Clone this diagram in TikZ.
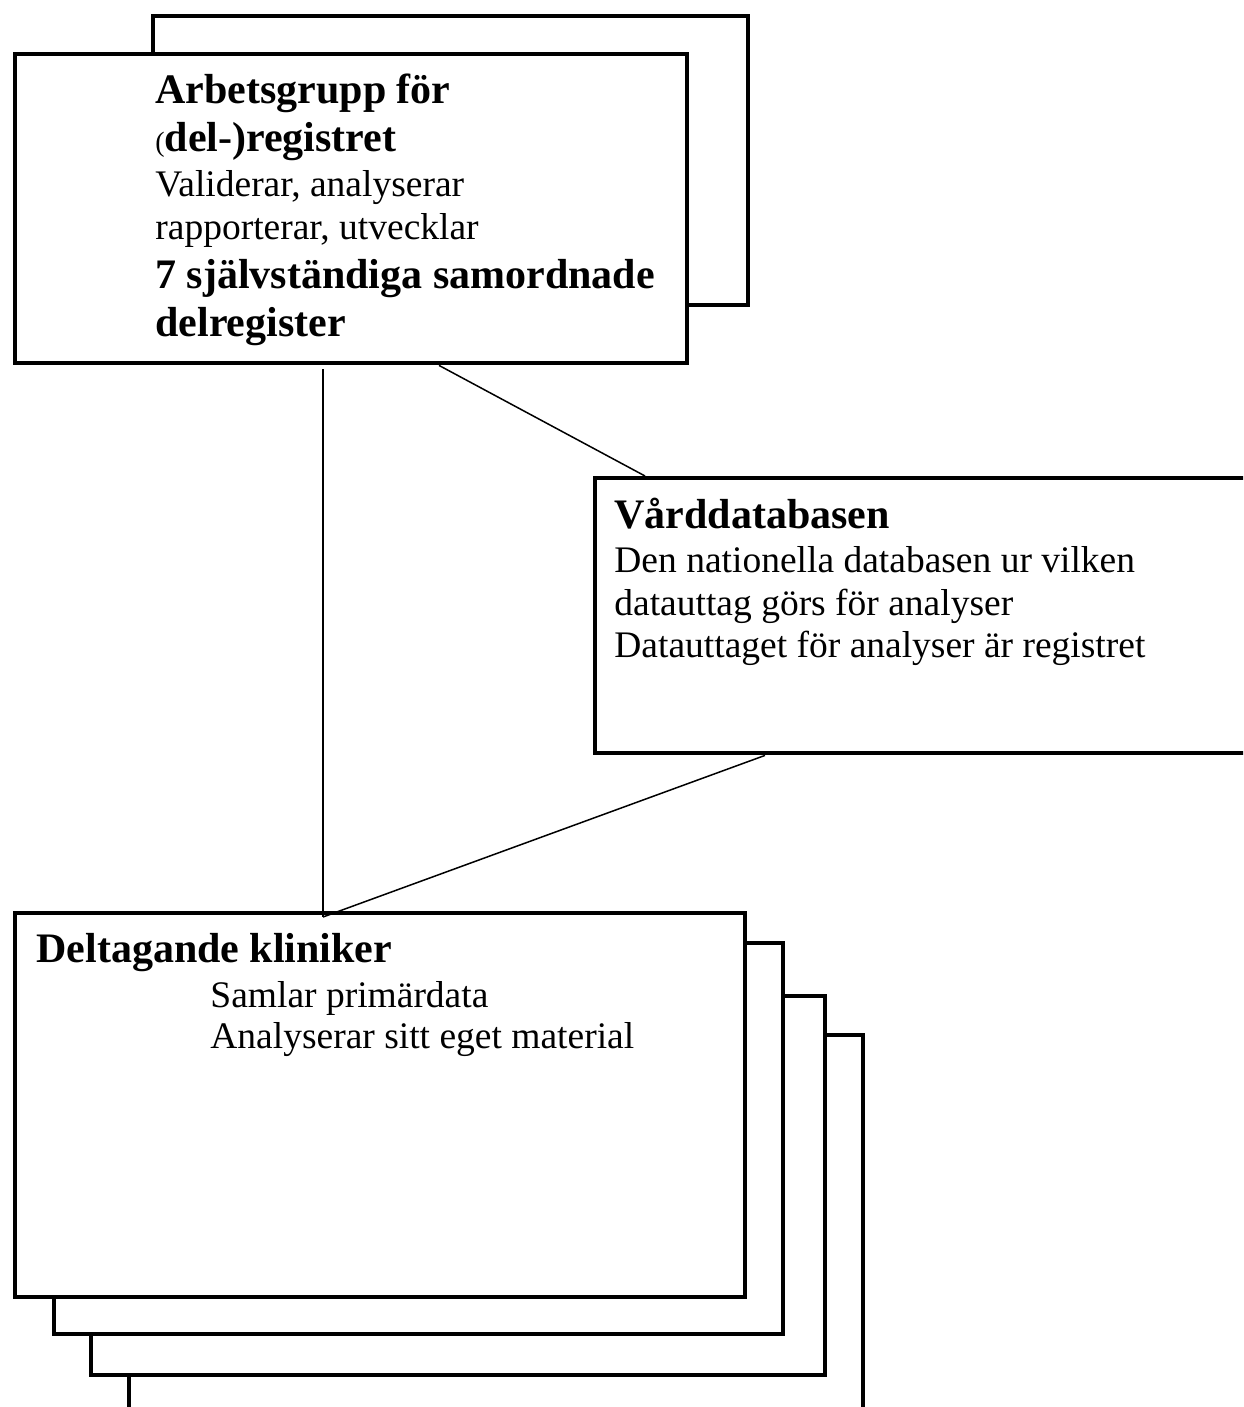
\documentclass[tikz,border=0pt]{standalone}
\usepackage{fontspec}
\setmainfont{Liberation Serif}
\tikzset{box/.style={draw, line width=2.2pt, fill=white, inner sep=0pt, anchor=north west},
         hd/.style={anchor=base west, inner sep=0pt, font=\fontsize{21}{24}\selectfont\bfseries},
         txt/.style={anchor=base west, inner sep=0pt, font=\fontsize{18.75}{22}\selectfont},
         link/.style={line width=0.75pt}}
\begin{document}
\begin{tikzpicture}[x=0.5pt,y=-0.5pt]
\useasboundingbox (0,0) rectangle (1243,1407);
\clip (0,0) rectangle (1243,1407);
\node [box, minimum width=297.5pt, minimum height=144.5pt] (arbback) at (151,14) {};
\node [box, minimum width=336pt, minimum height=154.5pt] (arb) at (13,52) {};
\node [box, minimum width=338.5pt, minimum height=137.5pt] (vard) at (593,476) {};
\node [box, minimum width=367pt, minimum height=208.5pt] (klin4) at (127,1033) {};
\node [box, minimum width=367pt, minimum height=189.5pt] (klin3) at (89,994) {};
\node [box, minimum width=364.5pt, minimum height=195.5pt] (klin2) at (52,941) {};
\node [box, minimum width=365pt, minimum height=192pt] (klin) at (13,911) {};
\node [hd] (arbt1) at (155,104) {Arbetsgrupp för};
\node [hd] (arbt2) at (155,152) {{\mdseries\fontsize{14}{14}\selectfont(}del-)registret};
\node [txt] (arbt3) at (155,197) {Validerar, analyserar};
\node [txt] (arbt4) at (155,240) {rapporterar, utvecklar};
\node [hd] (arbt5) at (155,288) {7 självständiga samordnade};
\node [hd] (arbt6) at (155,336) {delregister};
\node [hd] (vardt1) at (614,528) {Vårddatabasen};
\node [txt] (vardt2) at (614,572) {Den nationella databasen ur vilken};
\node [txt] (vardt3) at (614,615) {datauttag görs för analyser};
\node [txt] (vardt4) at (614,657) {Datauttaget för analyser är registret};
\node [hd] (klint1) at (36,962) {Deltagande kliniker};
\node [txt] (klint2) at (210,1007) {Samlar primärdata};
\node [txt] (klint3) at (210,1048) {Analyserar sitt eget material};
\coordinate (arbfoot) at (323,369);
\coordinate (arbcut) at ([xshift=213pt]arb.south west);
\coordinate (vardtop) at ([xshift=26pt]vard.north west);
\coordinate (vardfoot) at ([xshift=86pt]vard.south west);
\coordinate (klinmeet) at (323,917);
\draw [link] (arbfoot) -- (klinmeet);
\draw [link] (arbcut) -- (vardtop);
\draw [link] (vardfoot) -- (klinmeet);
\end{tikzpicture}
\end{document}
